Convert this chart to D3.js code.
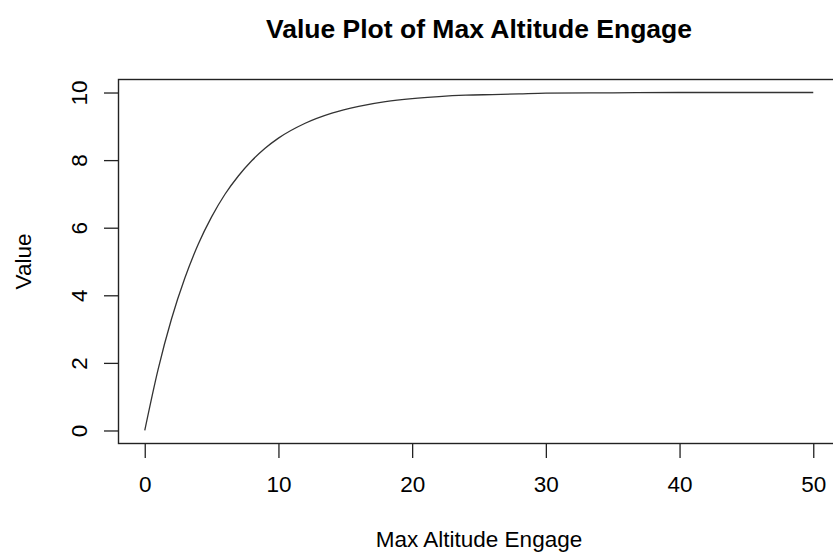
<!DOCTYPE html>
<html>
<head>
<meta charset="utf-8">
<script src="https://cdn.jsdelivr.net/npm/d3@7"></script>
<style>
  body { margin: 0; background: #fff; }
  svg { display: block; font-family: "Liberation Sans", Arial, sans-serif; }
</style>
</head>
<body>
<script>
const width = 833,
  height = 554;

// values
const altitude = [0, 1, 2, 3, 4, 5, 6, 7, 8, 9, 10, 12, 14, 16, 18, 20, 22, 24, 26, 28, 30, 35, 40, 45, 50];
const value = [0, 1.81, 3.30, 4.51, 5.51, 6.32, 6.99, 7.53, 7.98, 8.35, 8.65, 9.09, 9.39, 9.59, 9.73, 9.82, 9.88, 9.92, 9.94, 9.96, 9.98, 9.99, 10, 10, 10];
const xTicks = [0, 10, 20, 30, 40, 50];
const yTicks = [0, 2, 4, 6, 8, 10];

const margin = {top: 79, right: -7, bottom: 110, left: 118},
  innerWidth = width - margin.left - margin.right,
  innerHeight = height - margin.top - margin.bottom;

const x = d3.scaleLinear()
  .domain([-2, 52])
  .range([0, innerWidth]);

const y = d3.scaleLinear()
  .domain([-0.4, 10.4])
  .range([innerHeight, 0]);

const svg = d3.select("body").append("svg")
  .attr("width", width)
  .attr("height", height);

svg.append("rect")
  .attr("width", width)
  .attr("height", height)
  .attr("fill", "#fff");

svg.append("text")
  .attr("x", margin.left + innerWidth / 2)
  .attr("y", 38)
  .attr("text-anchor", "middle")
  .attr("font-size", 26.5)
  .attr("font-weight", "bold")
  .text("Value Plot of Max Altitude Engage");

const g = svg.append("g")
  .attr("transform", "translate(" + margin.left + "," + margin.top + ")");

const rows = altitude.map((a, i) => ({a: a, v: value[i]}));

g.append("path")
  .datum(rows)
  .attr("fill", "none")
  .attr("stroke", "#333")
  .attr("stroke-width", 1.3)
  .attr("d", d3.line()
    .x(d => x(d.a))
    .y(d => y(d.v))
    .curve(d3.curveMonotoneX));

g.append("rect")
  .attr("x", 0.5)
  .attr("y", 0.5)
  .attr("width", innerWidth)
  .attr("height", innerHeight - 1)
  .attr("fill", "none")
  .attr("stroke", "#222")
  .attr("stroke-width", 1.4);

const xAxis = g.append("g")
  .attr("transform", "translate(0," + innerHeight + ")")
  .call(d3.axisBottom(x).tickValues(xTicks).tickFormat(d3.format("d")).tickSize(14).tickPadding(18));

const yAxis = g.append("g")
  .call(d3.axisLeft(y).tickValues(yTicks).tickFormat(d3.format("d")).tickSize(14));

[xAxis, yAxis].forEach(ax => {
  ax.select(".domain").remove();
  ax.selectAll(".tick line").attr("stroke", "#222").attr("stroke-width", 1.3);
  ax.selectAll(".tick text")
    .attr("font-size", 22.5)
    .attr("font-family", "Liberation Sans, Arial, sans-serif")
    .attr("fill", "#000");
});

yAxis.selectAll(".tick text")
  .attr("x", null)
  .attr("dy", "0.35em")
  .attr("text-anchor", "middle")
  .attr("transform", "translate(-39,0) rotate(-90)");

svg.append("text")
  .attr("x", margin.left + innerWidth / 2)
  .attr("y", 547)
  .attr("text-anchor", "middle")
  .attr("font-size", 22.5)
  .text("Max Altitude Engage");

svg.append("text")
  .attr("transform", "translate(23," + (margin.top + innerHeight / 2) + ") rotate(-90)")
  .attr("dy", "0.35em")
  .attr("text-anchor", "middle")
  .attr("font-size", 22.5)
  .text("Value");
</script>
</body>
</html>
